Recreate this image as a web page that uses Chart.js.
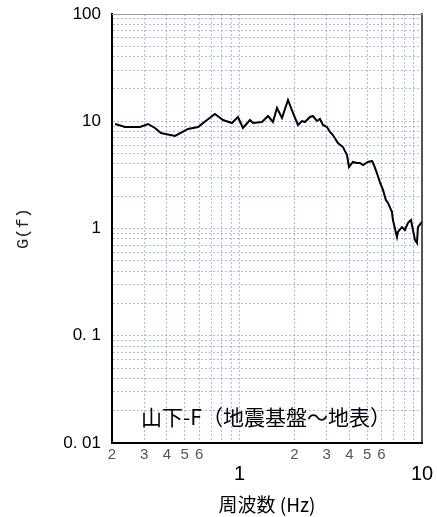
<!DOCTYPE html>
<html>
<head>
<meta charset="utf-8">
<script src="https://cdn.jsdelivr.net/npm/chart.js@4/dist/chart.umd.min.js"></script>
<style>
html,body{margin:0;padding:0;background:#fff;}
#wrap{width:437px;height:517px;position:relative;}
</style>
</head>
<body>
<div id="wrap"><canvas id="c" width="437" height="517"></canvas></div>
<script>
// ---- data ----
const freqHz = [0.208,0.236,0.285,0.315,0.344,0.371,0.443,0.522,0.592,0.663,0.733,0.811,0.909,0.980,1.044,1.141,1.185,1.327,1.432,1.525,1.604,1.709,1.843,1.963,2.09,2.198,2.282,2.432,2.526,2.656,2.758,2.866,3.014,3.13,3.25,3.46,3.69,3.88,3.98,4.18,4.40,4.57,4.75,5.05,5.32,5.45,5.66,5.88,6.11,6.34,6.51,6.84,6.93,7.29,7.38,7.76,8.06,8.38,8.70,8.92,9.15,9.38,9.50,10.0];
const gain = [9.43,8.84,8.84,9.43,8.65,7.77,7.29,8.47,8.84,10.27,11.68,10.27,9.63,10.96,8.65,10.27,9.63,9.84,11.19,9.84,13.29,10.72,15.78,11.94,9.23,10.05,9.84,10.96,11.19,10.05,10.49,9.23,8.84,7.94,7.44,6.27,5.75,4.84,3.74,4.17,4.08,4.08,3.91,4.17,4.26,3.91,3.29,2.71,2.29,1.84,1.73,1.43,1.20,0.833,0.928,1.03,0.968,1.13,1.20,0.968,0.782,0.733,1.03,1.15];
const xMin = 0.2, xMax = 10, yMin = 0.01, yMax = 100;
const xMinorLabelValues = [0.2,0.3,0.4,0.5,0.6,2,3,4,5,6];
const xMinorLabels = ['2','3','4','5','6','2','3','4','5','6'];
const xMajorTicks = [1,10];
const xMajorLabels = ['1','10'];
const yMajorTicks = [0.01,0.1,1,10,100];
const yMajorLabels = ['0. 01','0. 1','1','10','100'];
const xGridTicks = [];
[0.1,1].forEach(d=>{for(let m=1;m<=9;m++){const v=+(m*d).toFixed(3); if(v>=xMin&&v<=xMax) xGridTicks.push(v);}});
xGridTicks.push(10);
const yGridTicks = [];
[0.01,0.1,1,10].forEach(d=>{for(let m=1;m<=9;m++){yGridTicks.push(+(m*d).toFixed(4));}});
yGridTicks.push(100);
const annotationText = '山下-F（地震基盤～地表）';
const xTitle = '周波数 (Hz)';
const yTitle = 'G(f)';

const points = freqHz.map((f,i)=>({x:f,y:gain[i]}));
const gridColor = 'rgba(120,120,255,0.55)';
const near = (a,b)=>Math.abs(a-b)<1e-6*Math.max(1,b);
const zeroPad = s=>{s.paddingTop=0; s.paddingBottom=0; s.paddingLeft=0; s.paddingRight=0;};

const annot = {
  id:'annot',
  afterDraw(chart){
    const {ctx, chartArea} = chart;
    ctx.save();
    ctx.font = '21px "Noto Sans CJK JP"';
    ctx.fillStyle = '#000';
    ctx.textAlign = 'center';
    ctx.textBaseline = 'middle';
    ctx.fillText(annotationText, (chartArea.left+chartArea.right)/2 - 1, chartArea.bottom - 26);
    ctx.restore();
  }
};

new Chart(document.getElementById('c'), {
  type:'line',
  data:{datasets:[{data:points, borderColor:'#000', borderWidth:2, pointRadius:0, tension:0, fill:false}]},
  options:{
    responsive:false, animation:false,
    layout:{padding:0},
    plugins:{legend:{display:false}, tooltip:{enabled:false}},
    scales:{
      y:{
        type:'logarithmic', position:'left', min:yMin, max:yMax,
        afterBuildTicks:s=>{s.ticks = yGridTicks.map(v=>({value:v}));},
        afterFit:s=>{s.width = 112; zeroPad(s);},
        ticks:{autoSkip:false, padding:11, color:'#000', font:{family:'Liberation Sans', size:17},
          callback:(v)=>{const i=yMajorTicks.findIndex(t=>near(v,t)); return i>=0?yMajorLabels[i]:'';}},
        grid:{display:true, color:gridColor, lineWidth:1, drawTicks:false},
        border:{display:true, color:'#000', width:2, dash:[2,2]},
        title:{display:true, text:yTitle, color:'#222', font:{family:'Liberation Mono', size:17}, padding:{top:13,bottom:0}}
      },
      yR:{
        type:'logarithmic', position:'right', min:yMin, max:yMax,
        afterFit:s=>{s.width = 15; zeroPad(s);},
        ticks:{display:false}, grid:{display:false},
        border:{display:true, color:'#555', width:2}
      },
      xT:{
        type:'logarithmic', position:'top', min:xMin, max:xMax,
        afterFit:s=>{s.height = 14; zeroPad(s);},
        ticks:{display:false}, grid:{display:false},
        border:{display:true, color:'#999', width:1}
      },
      x:{
        type:'logarithmic', position:'bottom', min:xMin, max:xMax, weight:0,
        afterBuildTicks:s=>{s.ticks = xGridTicks.map(v=>({value:v}));},
        afterFit:s=>{s.height = 20; zeroPad(s);},
        ticks:{autoSkip:false, maxRotation:0, minRotation:0, padding:4, color:'#555', font:{family:'Liberation Sans', size:15, lineHeight:1},
          callback:(v)=>{const i=xMinorLabelValues.findIndex(t=>near(v,t)); return i>=0?xMinorLabels[i]:'';}},
        grid:{display:true, color:gridColor, lineWidth:1, drawTicks:false},
        border:{display:true, color:'#000', width:2, dash:[2,2]}
      },
      x2:{
        type:'logarithmic', position:'bottom', min:xMin, max:xMax, weight:1,
        afterBuildTicks:s=>{s.ticks = xMajorTicks.map(v=>({value:v}));},
        afterFit:s=>{s.height = 54; zeroPad(s);},
        ticks:{autoSkip:false, maxRotation:0, minRotation:0, padding:3, color:'#000', font:{family:'Liberation Sans', size:20, lineHeight:0.8},
          callback:(v)=>{const i=xMajorTicks.findIndex(t=>near(v,t)); return i>=0?xMajorLabels[i]:'';}},
        grid:{display:false, drawTicks:false},
        border:{display:false},
        title:{display:true, text:xTitle, color:'#000', font:{family:'Noto Sans CJK JP', size:19}, padding:{top:0,bottom:1}}
      }
    }
  },
  plugins:[annot]
});
</script>
</body>
</html>
